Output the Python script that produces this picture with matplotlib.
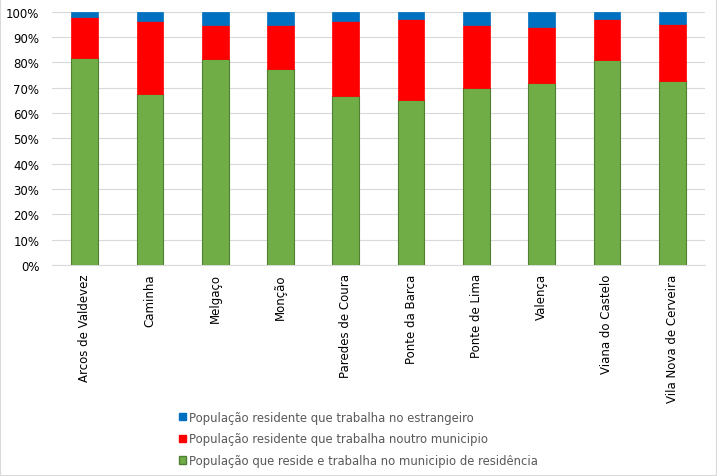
import matplotlib
matplotlib.use("Agg")
import matplotlib.pyplot as plt
import numpy as np
from matplotlib.ticker import PercentFormatter
from matplotlib.patches import Patch

categories = ["Arcos de Valdevez", "Caminha", "Melgaço", "Monção", "Paredes de Coura",
              "Ponte da Barca", "Ponte de Lima", "Valença", "Viana do Castelo", "Vila Nova de Cerveira"]
same_municipality = [81.8, 67.6, 81.2, 77.2, 66.8, 65.0, 70.0, 72.0, 81.1, 72.6]
other_municipality = [16.1, 28.6, 13.7, 17.7, 29.6, 32.2, 24.9, 22.1, 15.9, 22.7]
abroad = [2.1, 3.8, 5.1, 5.1, 3.6, 2.8, 5.1, 5.9, 3.0, 4.7]

labels = ["População que reside e trabalha no municipio de residência",
          "População residente que trabalha noutro municipio",
          "População residente que trabalha no estrangeiro"]
colors = ["#70ad47", "#ff0000", "#0070c0"]
edges = ["#507e32", "#ff0000", "#0070c0"]

fig = plt.figure(figsize=(7.17, 4.77), dpi=100)
ax = fig.add_axes([0.0725, 0.4423, 0.9105, 0.5311])

x = np.arange(len(categories))
s1 = np.array(same_municipality)
s2 = np.array(other_municipality)
s3 = np.array(abroad)
tot = s1 + s2 + s3
p1 = s1 / tot * 100
p2 = s2 / tot * 100
p3 = s3 / tot * 100
w = 0.41
ax.bar(x, p1, w, color=colors[0], edgecolor=edges[0], linewidth=0.8, zorder=3)
ax.bar(x, p2, w, bottom=p1, color=colors[1], edgecolor=edges[1], linewidth=0.5, zorder=3)
ax.bar(x, p3, w, bottom=p1 + p2, color=colors[2], edgecolor=edges[2], linewidth=0.5, zorder=3)

ax.set_xlim(-0.5, len(categories) - 0.5)
ax.set_ylim(0, 100)
ax.set_yticks(np.arange(0, 101, 10))
ax.yaxis.set_major_formatter(PercentFormatter(decimals=0))
ax.set_xticks(x)
ax.set_xticklabels(categories, rotation=90, fontsize=8.5, color="#000000")
ax.tick_params(axis="y", labelsize=8.5, colors="#000000", length=0, pad=9)
ax.tick_params(axis="x", length=0, pad=6)
ax.grid(axis="y", color="#d9d9d9", linewidth=0.8, zorder=0)
for s in ["top", "right", "left"]:
    ax.spines[s].set_visible(False)
ax.spines["bottom"].set_color("#d9d9d9")

handles = [Patch(facecolor=colors[2], edgecolor=colors[2]),
           Patch(facecolor=colors[1], edgecolor=colors[1]),
           Patch(facecolor=colors[0], edgecolor=edges[0])]
leg_labels = [labels[2], labels[1], labels[0]]
leg = fig.legend(handles, leg_labels, loc="center", bbox_to_anchor=(0.5, 0.0776), frameon=False,
                 fontsize=8.4, handlelength=0.6, handleheight=0.6, handletextpad=0.3,
                 labelspacing=0.75, labelcolor="#595959")

fig.patches.append(plt.Rectangle((0, 0), 1, 1, transform=fig.transFigure, fill=False,
                                 edgecolor="#d9d9d9", linewidth=1.5))
fig.savefig("out.png", dpi=100)
